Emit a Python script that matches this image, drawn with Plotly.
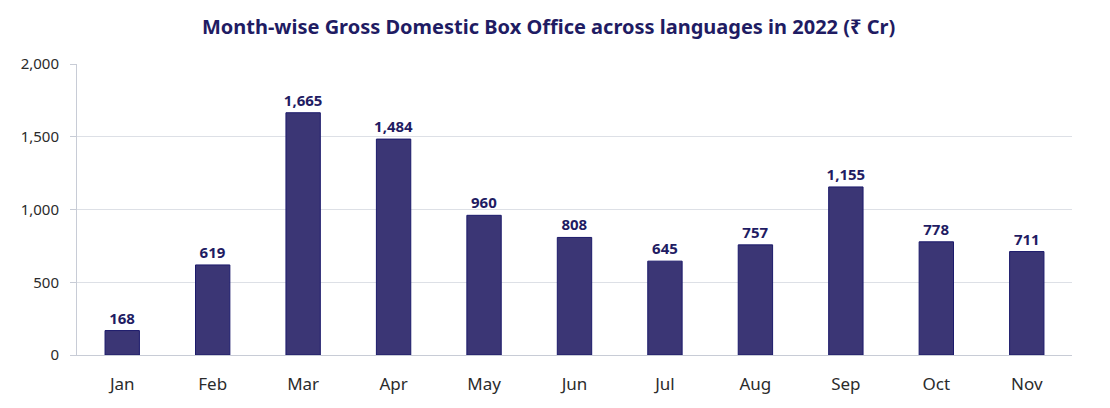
import plotly.graph_objects as go

months = ["Jan", "Feb", "Mar", "Apr", "May", "Jun", "Jul", "Aug", "Sep", "Oct", "Nov"]
gross_cr = [168, 619, 1665, 1484, 960, 808, 645, 757, 1155, 778, 711]
y_ticks = [0, 500, 1000, 1500, 2000]
y_tick_labels = ["0", "500", "1,000", "1,500", "2,000"]

FONT = "Noto Sans"

fig = go.Figure()
fig.add_trace(go.Bar(
    x=months,
    y=gross_cr,
    marker=dict(color="#3b3675", line=dict(color="#1c1a6b", width=1)),
    text=[f"{v:,}" for v in gross_cr],
    textposition="outside",
    textfont=dict(family=FONT, size=15, color="#1f1c63", weight="bold"),
    cliponaxis=False,
    hoverinfo="x+y",
))

fig.update_layout(
    width=1110,
    height=408,
    margin=dict(l=69, r=46, t=56, b=61),
    paper_bgcolor="white",
    plot_bgcolor="white",
    bargap=0.62,
    showlegend=False,
    uniformtext=dict(minsize=15, mode="show"),
    title=dict(
        text="<b>Month-wise Gross Domestic Box Office across languages in 2022 (₹ Cr)</b>",
        x=0.487,
        xanchor="center",
        y=0.953,
        yanchor="middle",
        font=dict(family=FONT, size=20, color="#1f1c63"),
    ),
    font=dict(family=FONT, size=15, color="#2b2b2b"),
)
fig.update_xaxes(
    showgrid=False,
    showline=True,
    linecolor="#c8ccd6",
    linewidth=1,
    ticks="",
    ticklabelstandoff=14,
    tickfont=dict(size=17, color="#2b2b2b"),
)
fig.update_yaxes(
    range=[0, 2000],
    tickvals=y_ticks,
    ticktext=y_tick_labels,
    showgrid=True,
    gridcolor="#dde0e6",
    gridwidth=1,
    showline=True,
    linecolor="#c8ccd6",
    ticks="outside",
    ticklen=6,
    tickcolor="#c8ccd6",
    ticklabelstandoff=8,
    zeroline=False,
    tickfont=dict(size=15, color="#2b2b2b"),
)

fig.write_html("out.html")
